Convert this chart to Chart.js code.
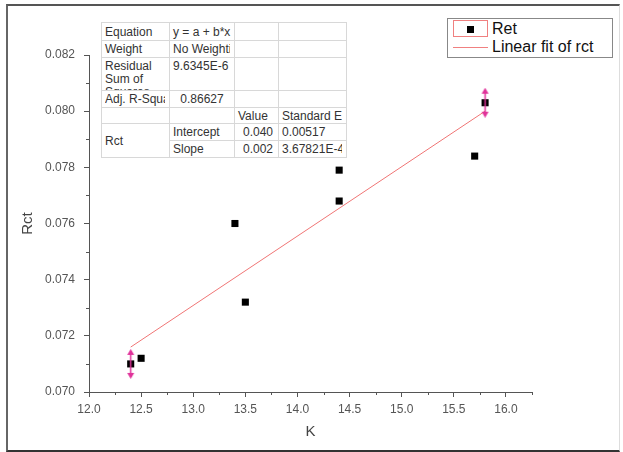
<!DOCTYPE html>
<html>
<head>
<meta charset="utf-8">
<script src="https://cdn.jsdelivr.net/npm/chart.js@4.4.0/dist/chart.umd.min.js"></script>
<style>
body { margin: 0; background: #fff; font-family: "Liberation Sans", Arial, sans-serif; }
#wrap { position: relative; width: 623px; height: 452px; }
#frame { position: absolute; left: 6px; top: 4px; width: 611px; height: 444px;
  border-top: 2px solid #555; border-left: 2px solid #666; border-right: 1px solid #ddd; border-bottom: 2px solid #333;
  pointer-events: none; }
#stats { position: absolute; left: 101px; top: 22px; width: 245px; border-collapse: collapse; table-layout: fixed;
  font-size: 12px; color: #333; border: 1px solid #888; background: #fff; }
#stats td { border: 1px solid #d8d8d8; padding: 0 3px; white-space: nowrap; overflow: hidden; vertical-align: middle; }
#stats td.top { vertical-align: top; white-space: normal; }
#stats td.r { text-align: right; padding-right: 5px; }
#stats td.c { text-align: center; }
#stats td.cl { padding-right: 4px; }
#stats td.cl div { overflow: hidden; }
#stats .clip { height: 32px; overflow: hidden; line-height: 13px; padding-top: 2px; box-sizing: border-box; }
#legend { position: absolute; left: 447px; top: 18px; width: 164px; height: 38px; border: 1px solid #888;
  font-size: 16px; color: #111; background: #fff; }
#legend .sym { position: absolute; left: 5px; width: 35px; }
#legend .txt { position: absolute; left: 44px; line-height: 18px; }
</style>
</head>
<body>
<div id="wrap">
  <canvas id="chart" width="623" height="452"></canvas>
  <table id="stats">
    <colgroup><col style="width:68px"><col style="width:65px"><col style="width:44px"><col style="width:68px"></colgroup>
    <tr style="height:18px"><td>Equation</td><td>y = a + b*x</td><td></td><td></td></tr>
    <tr style="height:17px"><td>Weight</td><td class="cl"><div>No Weighting</div></td><td></td><td></td></tr>
    <tr style="height:33px"><td class="top"><div class="clip">Residual Sum of Squares</div></td><td class="top"><div class="clip">9.6345E-6</div></td><td></td><td></td></tr>
    <tr style="height:17px"><td class="cl"><div>Adj. R-Square</div></td><td class="c">0.86627</td><td></td><td></td></tr>
    <tr style="height:16px"><td></td><td></td><td>Value</td><td class="cl"><div>Standard Error</div></td></tr>
    <tr style="height:17px"><td rowspan="2">Rct</td><td>Intercept</td><td class="r">0.040</td><td>0.00517</td></tr>
    <tr style="height:17px"><td>Slope</td><td class="r">0.002</td><td class="cl"><div>3.67821E-4</div></td></tr>
  </table>
  <div id="legend">
    <div class="sym" style="top:1px;height:17px;border:1px solid #f08080;box-sizing:border-box;">
      <div style="position:absolute;left:13px;top:5px;width:7px;height:7px;background:#000;"></div>
    </div>
    <div class="txt" style="top:1px;">Ret</div>
    <div class="sym" style="top:28px;height:1px;background:#f08080;"></div>
    <div class="txt" style="top:19px;">Linear fit of rct</div>
  </div>
  <div id="frame"></div>
</div>
<script>
// data
const K = [12.4, 12.5, 13.4, 13.5, 14.4, 14.4, 15.7, 15.8];
const Rct = [0.0710, 0.0712, 0.0760, 0.0732, 0.0768, 0.0779, 0.0784, 0.0803];
// linear fit line ends
const fitK = [12.4, 15.8];
const fitRct = [0.0716, 0.0800];
// fit range markers (pink arrows)
const rangeK = [12.4, 15.8];
const rangeRct = [0.0710, 0.0803];
// axes
const xRange = [12.0, 16.25];
const yRange = [0.070, 0.082];

const isMajorX = v => Math.abs(v * 2 - Math.round(v * 2)) < 1e-6;
const isMajorY = v => Math.round(v * 1000) % 2 === 0;

function arrowMarker() {
    const c = document.createElement('canvas');
    c.width = 9; c.height = 30;
    const g = c.getContext('2d');
    g.strokeStyle = g.fillStyle = '#e0329a';
    g.lineWidth = 1.5;
    g.beginPath(); g.moveTo(4.5, 4); g.lineTo(4.5, 26); g.stroke();
    g.beginPath(); g.moveTo(4.5, 0); g.lineTo(1, 6); g.lineTo(8, 6); g.closePath(); g.fill();
    g.beginPath(); g.moveTo(4.5, 30); g.lineTo(1, 24); g.lineTo(8, 24); g.closePath(); g.fill();
    return c;
}

const minorTicks = {
    id: 'minorTicks',
    afterDraw(chart) {
        const { ctx, scales: { x, y } } = chart;
        ctx.save();
        ctx.strokeStyle = '#555';
        ctx.lineWidth = 1;
        ctx.beginPath();
        x.ticks.forEach(t => {
            if (isMajorX(t.value)) return;
            const px = Math.round(x.getPixelForValue(t.value)) + 0.5;
            ctx.moveTo(px, x.top); ctx.lineTo(px, x.top + 3);
        });
        y.ticks.forEach(t => {
            if (isMajorY(t.value)) return;
            const py = Math.round(y.getPixelForValue(t.value)) + 0.5;
            ctx.moveTo(y.right, py); ctx.lineTo(y.right - 3, py);
        });
        ctx.stroke();
        ctx.restore();
    }
};

const font = { family: '"Liberation Sans", Arial, sans-serif' };

new Chart(document.getElementById('chart'), {
    type: 'scatter',
    data: {
        datasets: [
            {
                label: 'range',
                data: rangeK.map((k, i) => ({ x: k, y: rangeRct[i] })),
                pointStyle: arrowMarker(),
                order: 0
            },
            {
                label: 'Ret',
                data: K.map((k, i) => ({ x: k, y: Rct[i] })),
                pointStyle: 'rect',
                pointRadius: 5,
                backgroundColor: '#000',
                borderColor: '#000',
                borderWidth: 0,
                order: 1
            },
            {
                label: 'Linear fit of rct',
                type: 'line',
                data: fitK.map((k, i) => ({ x: k, y: fitRct[i] })),
                borderColor: '#f07575',
                borderWidth: 1,
                pointRadius: 0,
                fill: false,
                order: 2
            }
        ]
    },
    options: {
        responsive: false,
        animation: false,
        events: [],
        layout: { padding: { top: 55, right: 91, left: 19, bottom: 11 } },
        plugins: { legend: { display: false }, tooltip: { enabled: false } },
        scales: {
            x: {
                type: 'linear',
                min: xRange[0], max: xRange[1],
                afterFit: s => { s.height = 49; },
                border: { color: '#555', width: 1 },
                grid: {
                    drawOnChartArea: false, tickLength: 5,
                    tickColor: c => isMajorX(c.tick.value) ? '#555' : 'transparent'
                },
                ticks: {
                    stepSize: 0.25, autoSkip: false, maxRotation: 0, padding: 5,
                    color: '#555', font: { ...font, size: 12 },
                    callback: v => isMajorX(v) ? v.toFixed(1) : ''
                },
                title: { display: true, text: 'K', color: '#444', padding: 0, font: { ...font, size: 15 } }
            },
            y: {
                type: 'linear',
                min: yRange[0], max: yRange[1],
                afterFit: s => { s.width = 70; },
                border: { color: '#555', width: 1 },
                grid: {
                    drawOnChartArea: false, tickLength: 5,
                    tickColor: c => isMajorY(c.tick.value) ? '#555' : 'transparent'
                },
                ticks: {
                    stepSize: 0.001, autoSkip: false, padding: 9,
                    color: '#555', font: { ...font, size: 12 },
                    callback: v => isMajorY(v) ? v.toFixed(3) : ''
                },
                title: { display: true, text: 'Rct', color: '#444', padding: 0, font: { ...font, size: 15 } }
            }
        }
    },
    plugins: [minorTicks]
});
</script>
</body>
</html>
